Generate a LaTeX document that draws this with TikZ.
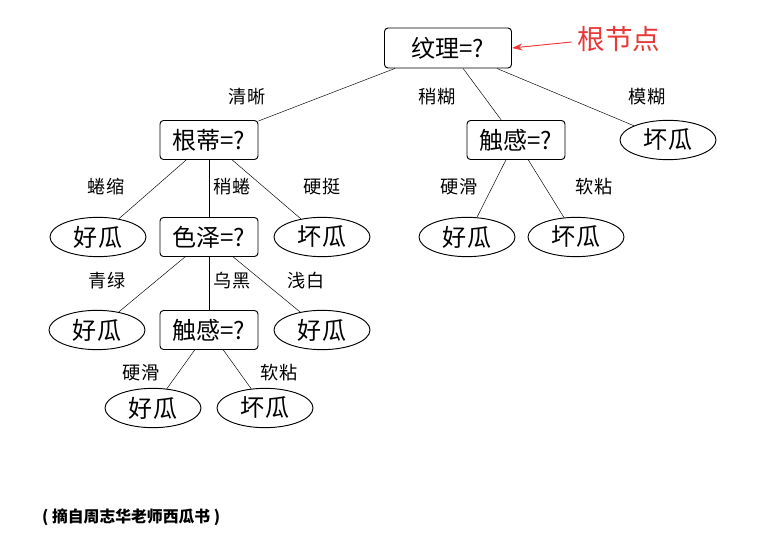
\documentclass[tikz,border=0pt]{standalone}
\usepackage{fontspec}
\setmainfont{Noto Sans CJK SC}
\usetikzlibrary{shapes.geometric,arrows.meta}
\definecolor{notered}{RGB}{232,56,56}
\begin{document}
\begin{tikzpicture}[x=0.03cm, y=-0.03cm,
  test/.style={draw, rounded corners=3pt, thick, minimum width=2.94cm, minimum height=1.17cm, inner sep=0pt, font=\fontsize{20.5}{22}\selectfont},
  leaf/.style={draw, ellipse, thick, minimum width=2.88cm, minimum height=1.18cm, inner sep=0pt, font=\fontsize{20.5}{22}\selectfont},
  val/.style={font=\fontsize{15.5}{17}\selectfont}]
  \useasboundingbox (0,0) rectangle (757,539);
  % 根节点
  \node[test, minimum width=3.81cm, minimum height=1.2cm] (wenli) at (448,48) {纹理=?};
  \node[text=notered, font=\fontsize{23.5}{26}\selectfont] (rootlbl) at (619,39) {根节点};
  \draw[-{Stealth[length=9pt,width=6pt]}, thick, notered] (rootlbl.west) ++(-2,3) coordinate (tail) -- (wenli.east);
  % 第一层
  \node[test] (genti) at (209,140) {根蒂=?};
  \node[test] (chugan1) at (516,140) {触感=?};
  \node[leaf] (bad1) at (668,140) {坏瓜};
  \draw (wenli) -- (genti);
  \draw (wenli) -- (chugan1);
  \draw (wenli) -- (bad1);
  \node[val] at (247,97) {清晰};
  \node[val] at (437,97) {稍糊};
  \node[val] at (647,97) {模糊};
  % 根蒂 分支
  \node[leaf] (good1) at (98,237) {好瓜};
  \node[test] (seze) at (209,237) {色泽=?};
  \node[leaf] (bad2) at (322,237) {坏瓜};
  \draw (genti) -- (good1);
  \draw (genti) -- (seze);
  \draw (genti) -- (bad2);
  \node[val] at (106,187) {蜷缩};
  \node[val] at (232,187) {稍蜷};
  \node[val] at (322,187) {硬挺};
  % 触感 分支（右）
  \node[leaf] (good2) at (467,237) {好瓜};
  \node[leaf] (bad3) at (576,237) {坏瓜};
  \draw (chugan1) -- (good2);
  \draw (chugan1) -- (bad3);
  \node[val] at (459,187) {硬滑};
  \node[val] at (594,187) {软粘};
  % 色泽 分支
  \node[leaf] (good3) at (97,330) {好瓜};
  \node[test] (chugan2) at (209,330) {触感=?};
  \node[leaf] (good4) at (322,330) {好瓜};
  \draw (seze) -- (good3);
  \draw (seze) -- (chugan2);
  \draw (seze) -- (good4);
  \node[val] at (107,281) {青绿};
  \node[val] at (232,281) {乌黑};
  \node[val] at (306,281) {浅白};
  % 触感 分支（下）
  \node[leaf] (good5) at (153,408) {好瓜};
  \node[leaf] (bad4) at (265,408) {坏瓜};
  \draw (chugan2) -- (good5);
  \draw (chugan2) -- (bad4);
  \node[val] at (141,373) {硬滑};
  \node[val] at (279,373) {软粘};
  % 出处
  \node[anchor=west, font=\bfseries\fontsize{13.5}{15}\selectfont] (src) at (38,517) {( 摘自周志华老师西瓜书 )};
\end{tikzpicture}
\end{document}
